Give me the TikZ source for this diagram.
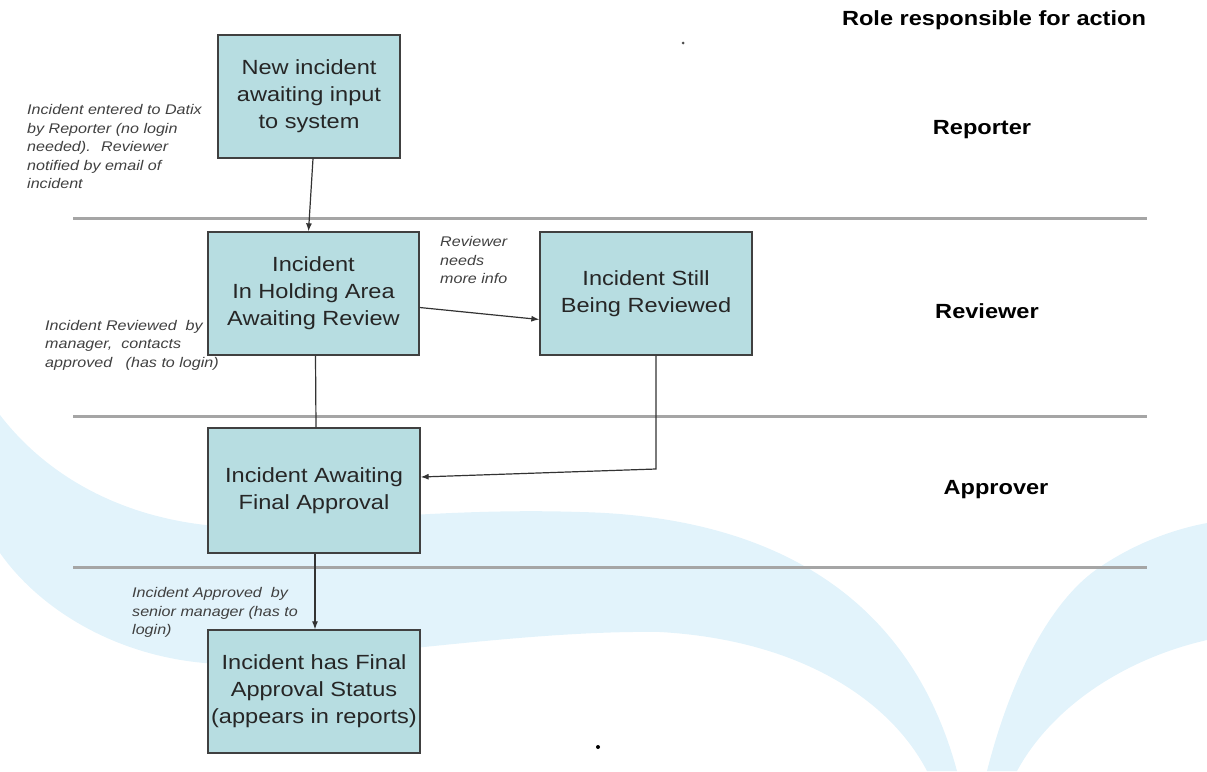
\documentclass[tikz,border=0pt]{standalone}
\usepackage{fontspec}
\setmainfont{Liberation Sans}[FakeStretch=1.15]
\usetikzlibrary{arrows.meta}
\definecolor{boxfill}{RGB}{183,221,225}
\definecolor{swoosh}{RGB}{226,243,251}
\definecolor{lanegray}{RGB}{165,165,165}

\begin{document}
\begin{tikzpicture}[x=1pt,y=-1pt,>={Latex[length=8pt,width=6pt]}]

\tikzset{statebox/.style={rectangle,draw=black!75,line width=1.3pt,fill=boxfill,minimum width=212pt,minimum height=124pt,inner sep=2pt,align=center,text=black!85,font=\fontsize{20.5}{27}\selectfont},}
\tikzset{notetext/.style={anchor=west,inner sep=0pt,align=left,text=black!75,font=\fontsize{14}{18.5}\selectfont\itshape},}
\tikzset{roletext/.style={inner sep=0pt,font=\fontsize{20.5}{24}\selectfont\bfseries},}
\tikzset{laneline/.style={lanegray,line width=3pt},}
\tikzset{flow/.style={black!80,line width=1.2pt},}

\useasboundingbox (0,0) rectangle (1207,771);

%SFONDO
\fill[swoosh] (0,415) .. controls (50,480) and (130,522) .. (230,527) .. controls (350,520) and (460,508) .. (580,512) .. controls (720,515) and (900,560) .. (957,771) -- (927,771) .. controls (890,700) and (800,640) .. (660,632) .. controls (520,630) and (350,660) .. (220,664) .. controls (120,660) and (40,610) .. (0,553) -- cycle;
\fill[swoosh] (987,771) .. controls (1010,680) and (1050,600) .. (1100,567) .. controls (1140,540) and (1180,528) .. (1207,523) -- (1207,640) .. controls (1120,660) and (1050,710) .. (1017,771) -- cycle;

%CORSIE
\draw[laneline] (73,218) -- (1147,218);
\draw[laneline] (73,416) -- (1147,416);
\draw[laneline] (73,567) -- (1147,567);

%STATI
\draw (309,96.5) node [statebox,minimum width=182pt,minimum height=123pt] (new) {New incident\\awaiting input\\to system};
\draw (313.5,293.5) node [statebox,minimum width=211pt,minimum height=123pt] (holding) {Incident\\In Holding Area\\Awaiting Review};
\draw (646,293.5) node [statebox,minimum height=123pt] (still) {Incident Still\\Being Reviewed};
\draw (314,490.5) node [statebox,minimum height=125pt] (awaiting) {Incident Awaiting\\Final Approval};
\draw (314,691.5) node [statebox,minimum height=123pt] (final) {Incident has Final\\Approval Status\\(appears in reports)};

\draw[->,flow] ([xshift=4pt]new.south) -- ([xshift=-5pt]holding.north);
\draw[->,flow] ([yshift=-14pt]holding.east) -- ([yshift=-26pt]still.west);
\draw[flow] ([xshift=2pt]holding.south) -- ([xshift=2pt]awaiting.north);
\coordinate (turn) at (656,469);
\draw[->,flow] ([xshift=10pt]still.south) -- (turn) -- ([yshift=13.5pt]awaiting.east);
\draw[->,flow] ([xshift=1pt]awaiting.south) -- ([xshift=1pt]final.north);

%NOTE
\draw (27,146.5) node [notetext] (enterednote) {Incident entered to Datix\\by Reporter (no login\\needed).~ Reviewer\\notified by email of\\incident};
\draw (440,260) node [notetext] (infonote) {Reviewer\\needs\\more info};
\draw (45,345) node [notetext] (reviewednote) {Incident Reviewed~ by\\manager,~ contacts\\approved~~ (has to login)};
\draw (132,612.5) node [notetext] (approvednote) {Incident Approved~ by\\senior manager (has to\\login)};

%RUOLI
\draw (994,20) node [roletext] (roletitle) {Role responsible for action};
\draw (982,130) node [roletext] (reporter) {Reporter};
\draw (987,311) node [roletext] (reviewer) {Reviewer};
\draw (996,490) node [roletext] (approver) {Approver};

\fill[black!70] (683,43) circle (1.5pt);
\fill[black] (598,747) circle (2pt);

\end{tikzpicture}
\end{document}
